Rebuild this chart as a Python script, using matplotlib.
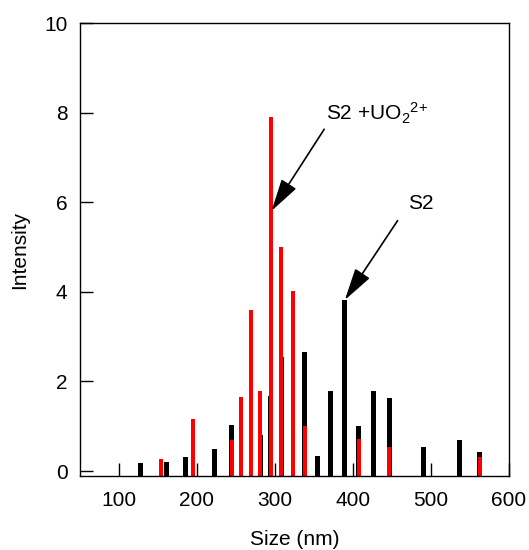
import matplotlib
matplotlib.use('Agg')
import matplotlib.pyplot as plt

plt.rcParams['font.family'] = ['Liberation Sans', 'DejaVu Sans']
plt.rcParams['mathtext.fontset'] = 'custom'
plt.rcParams['mathtext.rm'] = 'Liberation Sans'

# S2 (black)
s2_size = [127.8, 161.2, 185.0, 223.1, 244.9, 281.2, 294.5, 308.0, 338.5, 354.2,
           371.2, 388.8, 407.3, 426.5, 446.5, 490.1, 537.2, 562.8]
s2_int = [0.18, 0.21, 0.31, 0.49, 1.04, 0.81, 1.67, 2.55, 2.66, 0.33,
          1.78, 3.82, 1.00, 1.78, 1.64, 0.53, 0.69, 0.42]

# S2 + UO2 2+ (red)
s2uo_size = [153.8, 194.5, 244.9, 256.4, 268.8, 281.2, 294.5, 308.3, 322.8, 338.5,
             407.3, 446.5, 562.8]
s2uo_int = [0.28, 1.16, 0.69, 1.65, 3.59, 1.78, 7.91, 5.0, 4.01, 1.0,
            0.71, 0.54, 0.32]

xticks = [100, 200, 300, 400, 500, 600]
yticks = [0, 2, 4, 6, 8, 10]

fig = plt.figure(figsize=(5.29, 5.5), dpi=100)
ax = fig.add_axes([0.151, 0.1345, 0.811, 0.8235])

ymin = -0.11
ax.bar(s2_size, [h - ymin for h in s2_int], bottom=ymin, width=6.3, color='black', linewidth=0)
ax.bar(s2uo_size, [h - ymin for h in s2uo_int], bottom=ymin, width=5.0, color='#ff0000', linewidth=0)

ax.set_xlim(50, 600)
ax.set_ylim(ymin, 10)
ax.set_xticks(xticks)
ax.set_yticks(yticks)
ax.tick_params(direction='in', length=9.5, width=1, labelsize=15, pad=9)
ax.tick_params(axis='x', pad=11)
for s in ax.spines.values():
    s.set_linewidth(1.0)

ax.set_xlabel('Size (nm)', fontsize=15, labelpad=14)
ax.set_ylabel('Intensity', fontsize=15, labelpad=11)

arrow = dict(arrowstyle='-|>,head_length=1.0,head_width=0.27', mutation_scale=20,
             color='black', lw=1.2, shrinkA=0, shrinkB=0)
ax.annotate('', xy=(295.8, 5.81), xytext=(363.2, 7.63), arrowprops=arrow)
ax.annotate('', xy=(389.7, 3.82), xytext=(457.3, 5.59), arrowprops=arrow)
ax.text(365.4, 7.98, r'S2 +UO$\mathregular{_2}$$\mathregular{^{2{+}}}$', fontsize=15, va='center', ha='left')
ax.text(470.1, 5.98, 'S2', fontsize=15, va='center', ha='left')

fig.savefig('out.png', dpi=100)
